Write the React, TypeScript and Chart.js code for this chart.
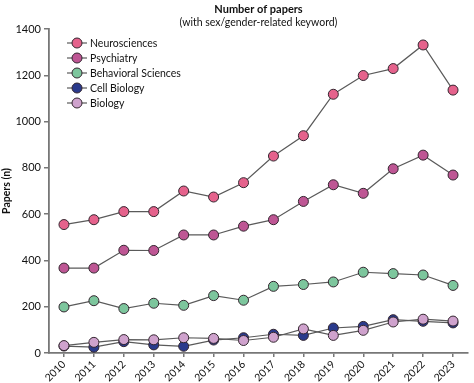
import React, { useEffect, useRef } from "react";
import { Chart, registerables } from "chart.js";

Chart.register(...registerables);

const years = ["2010","2011","2012","2013","2014","2015","2016","2017","2018","2019","2020","2021","2022","2023"];
const neurosciences = [555, 576, 611, 611, 700, 674, 736, 851, 939, 1118, 1199, 1229, 1331, 1136];
const psychiatry = [367, 367, 444, 443, 510, 510, 548, 576, 655, 727, 690, 796, 855, 769];
const behavioral = [199, 226, 192, 215, 206, 248, 228, 288, 296, 307, 349, 343, 337, 292];
const cellBiology = [30, 25, 49, 35, 29, 56, 66, 81, 76, 108, 115, 144, 137, 130];
const biology = [32, 46, 58, 57, 66, 63, 54, 68, 104, 76, 98, 134, 146, 138];
const seriesNames = ["Neurosciences", "Psychiatry", "Behavioral Sciences", "Cell Biology", "Biology"];
const seriesColors = ["#E5628C", "#BE5694", "#7DC69D", "#2A3A8C", "#CFA2CD"];
const yTicks = [0, 200, 400, 600, 800, 1000, 1200, 1400];
const titleText = "Number of papers";
const subtitleText = "(with sex/gender-related keyword)";
const yTitle = "Papers (n)";

const FONT = "Lato, 'Open Sans', sans-serif";

export default function App() {
  const ref = useRef<HTMLCanvasElement>(null);
  useEffect(() => {
    document.body.style.margin = "0";
    const values = [neurosciences, psychiatry, behavioral, cellBiology, biology];
    const datasets = values.map((d, i) => ({
      label: seriesNames[i],
      data: d,
      borderColor: "#5a5a5a",
      borderWidth: 1.2,
      pointBackgroundColor: seriesColors[i],
      pointBorderColor: "#33262f",
      pointBorderWidth: 1,
      pointRadius: 5,
      tension: 0,
    })).reverse();

    const overlay = {
      id: "overlay",
      afterDraw(chart: any) {
        const ctx = chart.ctx;
        const ca = chart.chartArea;
        const cx = (ca.left + ca.right) / 2;
        ctx.save();
        ctx.fillStyle = "#111";
        ctx.textAlign = "center";
        ctx.textBaseline = "middle";
        ctx.font = "bold 11px " + FONT;
        ctx.fillText(titleText, cx, 9);
        ctx.font = "10.5px " + FONT;
        ctx.fillText(subtitleText, cx, 23);
        ctx.textAlign = "left";
        seriesNames.forEach((name, i) => {
          const y = 43 + i * 15;
          ctx.strokeStyle = "#5a5a5a";
          ctx.lineWidth = 1.2;
          ctx.beginPath();
          ctx.moveTo(67, y);
          ctx.lineTo(87, y);
          ctx.stroke();
          ctx.beginPath();
          ctx.arc(77, y, 5, 0, Math.PI * 2);
          ctx.fillStyle = seriesColors[i];
          ctx.fill();
          ctx.strokeStyle = "#33262f";
          ctx.lineWidth = 1;
          ctx.stroke();
          ctx.fillStyle = "#111";
          ctx.font = "10.5px " + FONT;
          ctx.fillText(name, 90, y + 0.5);
        });
        ctx.restore();
      },
    };

    const chart = new Chart(ref.current!, {
      type: "line",
      data: { labels: years, datasets },
      plugins: [overlay],
      options: {
        animation: false,
        responsive: false,
        maintainAspectRatio: false,
        layout: { padding: { top: 29, right: 2, left: 0, bottom: 0 } },
        plugins: { legend: { display: false }, tooltip: { enabled: false }, title: { display: false } },
        scales: {
          x: {
            offset: true,
            grid: { drawOnChartArea: false, drawTicks: true, tickLength: 4, color: "#777", lineWidth: 1.5 },
            border: { display: true, color: "#777", width: 1.8 },
            ticks: { color: "#111", font: { family: FONT, size: 10.5 }, maxRotation: 45, minRotation: 45, padding: 1 },
            afterFit(scale: any) { scale.height = 30; },
          },
          y: {
            min: 0,
            max: 1400,
            afterBuildTicks(scale: any) { scale.ticks = yTicks.map((v) => ({ value: v })); },
            grid: { drawOnChartArea: false, drawTicks: true, tickLength: 5, color: "#777", lineWidth: 1.5 },
            border: { display: true, color: "#777", width: 1.8 },
            ticks: { color: "#111", font: { family: FONT, size: 11 }, padding: 3, callback: (v: any) => String(v) },
            title: { display: true, text: yTitle, color: "#111", font: { family: FONT, size: 10.5, weight: "bold" }, padding: 0 },
            afterFit(scale: any) { scale.width = 49; },
          },
        },
      },
    });
    return () => chart.destroy();
  }, []);
  return (
    <div style={{ position: "absolute", left: 0, top: 0, width: 474, height: 383 }}>
      <canvas ref={ref} width={474} height={383} style={{ width: 474, height: 383 }} />
    </div>
  );
}
